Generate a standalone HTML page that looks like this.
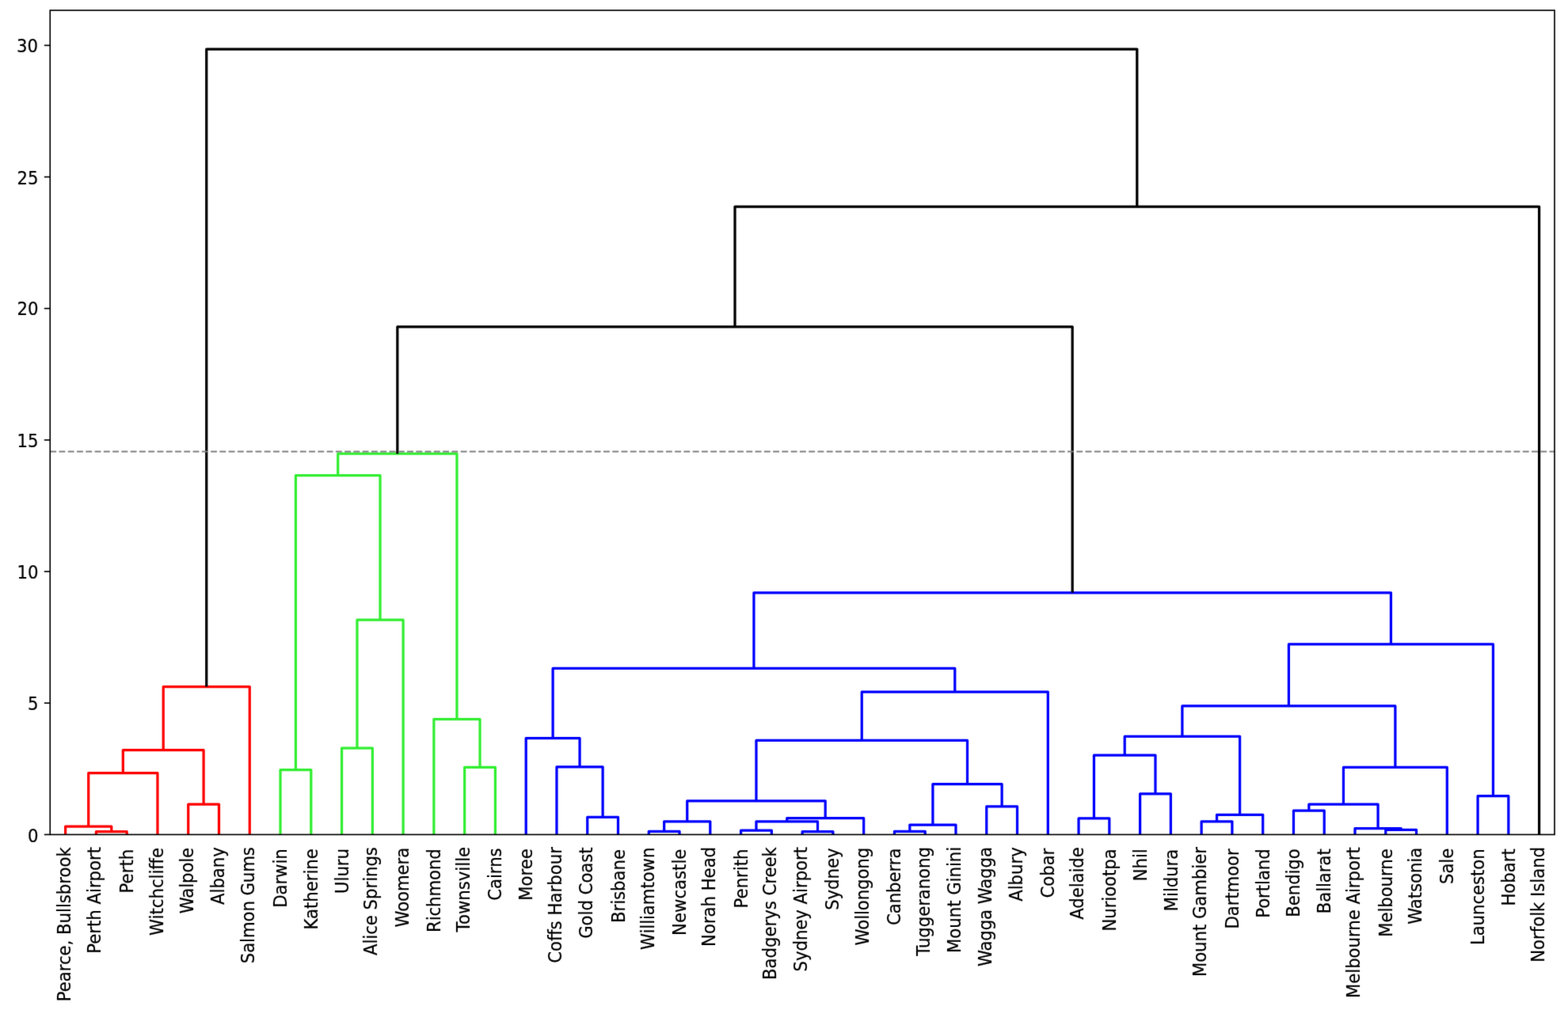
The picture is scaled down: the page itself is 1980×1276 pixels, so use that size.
<!DOCTYPE html>
<html lang="en">
<head>
<meta charset="utf-8">
<title>Hierarchical clustering dendrogram</title>
<style>
html,body{margin:0;padding:0;background:#fff;}
body{width:1980px;height:1276px;overflow:hidden;}
svg{display:block;}
text{font-family:"DejaVu Sans","Liberation Sans",sans-serif;font-size:21.25px;fill:#000;stroke:#000;stroke-width:0.22px;stroke-linejoin:round;}
.lk{fill:none;stroke-width:3.25;stroke-linejoin:round;stroke-linecap:butt;}
.ax{fill:none;stroke:#000;stroke-width:1.65;stroke-linecap:square;stroke-linejoin:miter;}
.tk{stroke:#000;stroke-width:1.65;stroke-linecap:butt;}
</style>
</head>
<body>
<svg xmlns="http://www.w3.org/2000/svg" width="1980" height="1276" viewBox="0 0 1980 1276">
<defs><filter id="soft" filterUnits="userSpaceOnUse" x="0" y="0" width="1980" height="1276" color-interpolation-filters="sRGB"><feConvolveMatrix order="3" kernelMatrix="0.0081 0.0738 0.0081 0.0738 0.6724 0.0738 0.0081 0.0738 0.0081" divisor="1" edgeMode="duplicate" preserveAlpha="true"/></filter></defs>
<g filter="url(#soft)">
<rect x="0" y="0" width="1980" height="1276" fill="#ffffff"/>
<g class="lk" stroke="#ff0000">
<path d="M121.41 1054.4V1050.74H160.18V1054.4"/>
<path d="M82.64 1054.4V1044.1H140.79V1050.74"/>
<path d="M111.71 1044.1V976.63H198.95V1054.4"/>
<path d="M237.72 1054.4V1016.18H276.49V1054.4"/>
<path d="M155.33 976.63V947.72H257.1V1016.18"/>
<path d="M206.22 947.72V867.62H315.26V1054.4"/>
</g>
<g class="lk" stroke="#33ee33">
<path d="M354.03 1054.4V972.64H392.8V1054.4"/>
<path d="M431.57 1054.4V945.06H470.34V1054.4"/>
<path d="M450.95 945.06V783.2H509.11V1054.4"/>
<path d="M373.41 972.64V600.58H480.03V783.2"/>
<path d="M586.65 1054.4V969.32H625.42V1054.4"/>
<path d="M547.88 1054.4V908.66H606.04V969.32"/>
<path d="M426.72 600.58V573.16H576.96V908.66"/>
</g>
<g class="lk" stroke="#0000ff">
<path d="M741.73 1054.4V1032.46H780.5V1054.4"/>
<path d="M702.96 1054.4V968.99H761.12V1032.46"/>
<path d="M664.19 1054.4V932.59H732.04V968.99"/>
<path d="M819.27 1054.4V1050.25H858.04V1054.4"/>
<path d="M838.66 1050.25V1037.78H896.81V1054.4"/>
<path d="M935.58 1054.4V1049.08H974.35V1054.4"/>
<path d="M1013.12 1054.4V1050.74H1051.9V1054.4"/>
<path d="M954.97 1049.08V1037.78H1032.51V1050.74"/>
<path d="M993.74 1037.78V1033.63H1090.67V1054.4"/>
<path d="M867.74 1037.78V1011.86H1042.2V1033.63"/>
<path d="M1129.44 1054.4V1050.25H1168.21V1054.4"/>
<path d="M1148.82 1050.25V1042.1H1206.98V1054.4"/>
<path d="M1245.75 1054.4V1018.84H1284.52V1054.4"/>
<path d="M1177.9 1042.1V990.59H1265.13V1018.84"/>
<path d="M954.97 1011.86V935.42H1221.52V990.59"/>
<path d="M1088.24 935.42V874.1H1323.29V1054.4"/>
<path d="M698.12 932.59V844.35H1205.77V874.1"/>
<path d="M1362.06 1054.4V1033.99H1400.83V1054.4"/>
<path d="M1439.6 1054.4V1002.89H1478.37V1054.4"/>
<path d="M1381.44 1033.99V954.03H1458.98V1002.89"/>
<path d="M1517.14 1054.4V1037.78H1555.91V1054.4"/>
<path d="M1536.53 1037.78V1029.31H1594.68V1054.4"/>
<path d="M1420.21 954.03V930.43H1565.6V1029.31"/>
<path d="M1633.45 1054.4V1024.09H1672.22V1054.4"/>
<path d="M1749.76 1054.4V1048.42H1788.53V1054.4"/>
<path d="M1710.99 1054.4V1046.59H1769.15V1048.42"/>
<path d="M1652.84 1024.09V1016.18H1740.07V1046.59"/>
<path d="M1696.45 1016.18V969.48H1827.3V1054.4"/>
<path d="M1492.91 930.43V891.88H1761.88V969.48"/>
<path d="M1866.07 1054.4V1005.71H1904.84V1054.4"/>
<path d="M1627.39 891.88V813.94H1885.46V1005.71"/>
<path d="M951.94 844.35V748.77H1756.43V813.94"/>
</g>
<g class="lk" stroke="#000000">
<path d="M501.84 573.16V412.96H1354.18V748.77"/>
<path d="M928.01 412.96V261.08H1943.61V1054.4"/>
<path d="M260.74 867.62V62H1435.81V261.08"/>
</g>
<path d="M63.25 570.5H1963" fill="none" stroke="#808080" stroke-width="2.1" stroke-dasharray="7.87 3.4"/>
<g class="tk">
<path d="M63.25 1054.4H55.85"/>
<path d="M63.25 888.23H55.85"/>
<path d="M63.25 722.05H55.85"/>
<path d="M63.25 555.88H55.85"/>
<path d="M63.25 389.7H55.85"/>
<path d="M63.25 223.53H55.85"/>
<path d="M63.25 57.35H55.85"/>
</g>
<rect class="ax" x="63.25" y="13.05" width="1899.75" height="1041.35"/>
<g text-anchor="end">
<text transform="translate(48.6 1063.5) scale(1 1.06)">0</text>
<text transform="translate(48.6 897.28) scale(1 1.06)">5</text>
<text transform="translate(48.4 730.6) scale(1 1.06)">10</text>
<text transform="translate(48.4 564.88) scale(1 1.06)">15</text>
<text transform="translate(48.4 397.85) scale(1 1.06)">20</text>
<text transform="translate(48.4 232.58) scale(1 1.06)">25</text>
<text transform="translate(48.1 66.45) scale(1 1.06)">30</text>
</g>
<g>
<text transform="translate(88.59 1265.3) rotate(-90) scale(1 1.06)" textLength="195" lengthAdjust="spacing">Pearce, Bullsbrook</text>
<text transform="translate(127.36 1204.77) rotate(-90) scale(1 1.06)" textLength="134.88" lengthAdjust="spacing">Perth Airport</text>
<text transform="translate(168.25 1128.45) rotate(-90) scale(1 1.06)" textLength="55.62" lengthAdjust="spacing">Perth</text>
<text transform="translate(206 1182.03) rotate(-90) scale(1 1.06)" textLength="111.12" lengthAdjust="spacing">Witchcliffe</text>
<text transform="translate(244.27 1154.3) rotate(-90) scale(1 1.06)" textLength="83.5" lengthAdjust="spacing">Walpole</text>
<text transform="translate(282.81 1142.9) rotate(-90) scale(1 1.06)" textLength="72.62" lengthAdjust="spacing">Albany</text>
<text transform="translate(321.11 1217.22) rotate(-90) scale(1 1.06)" textLength="147.12" lengthAdjust="spacing">Salmon Gums</text>
<text transform="translate(362 1146.85) rotate(-90) scale(1 1.06)" textLength="74.62" lengthAdjust="spacing">Darwin</text>
<text transform="translate(400.77 1174.47) rotate(-90) scale(1 1.06)" textLength="102.25" lengthAdjust="spacing">Katherine</text>
<text transform="translate(439.69 1128.97) rotate(-90) scale(1 1.06)" textLength="57" lengthAdjust="spacing">Uluru</text>
<text transform="translate(476.19 1206.97) rotate(-90) scale(1 1.06)" textLength="136.88" lengthAdjust="spacing">Alice Springs</text>
<text transform="translate(515.66 1171.43) rotate(-90) scale(1 1.06)" textLength="100.62" lengthAdjust="spacing">Woomera</text>
<text transform="translate(555.86 1177.97) rotate(-90) scale(1 1.06)" textLength="105.75" lengthAdjust="spacing">Richmond</text>
<text transform="translate(593.2 1177.4) rotate(-90) scale(1 1.06)" textLength="107.5" lengthAdjust="spacing">Townsville</text>
<text transform="translate(633.12 1137.85) rotate(-90) scale(1 1.06)" textLength="66.5" lengthAdjust="spacing">Cairns</text>
<text transform="translate(672.17 1137.72) rotate(-90) scale(1 1.06)" textLength="65.5" lengthAdjust="spacing">Moree</text>
<text transform="translate(708.81 1216.85) rotate(-90) scale(1 1.06)" textLength="146.75" lengthAdjust="spacing">Coffs Harbour</text>
<text transform="translate(748.18 1185.8) rotate(-90) scale(1 1.06)" textLength="115.5" lengthAdjust="spacing">Gold Coast</text>
<text transform="translate(788.78 1166.02) rotate(-90) scale(1 1.06)" textLength="93" lengthAdjust="spacing">Brisbane</text>
<text transform="translate(825.73 1199.98) rotate(-90) scale(1 1.06)" textLength="129.38" lengthAdjust="spacing">Williamtown</text>
<text transform="translate(866.12 1181.88) rotate(-90) scale(1 1.06)" textLength="109.25" lengthAdjust="spacing">Newcastle</text>
<text transform="translate(902.56 1195.9) rotate(-90) scale(1 1.06)" textLength="126" lengthAdjust="spacing">Norah Head</text>
<text transform="translate(943.86 1147.4) rotate(-90) scale(1 1.06)" textLength="74.88" lengthAdjust="spacing">Penrith</text>
<text transform="translate(980.2 1237.97) rotate(-90) scale(1 1.06)" textLength="167.88" lengthAdjust="spacing">Badgerys Creek</text>
<text transform="translate(1018.88 1227.52) rotate(-90) scale(1 1.06)" textLength="157.62" lengthAdjust="spacing">Sydney Airport</text>
<text transform="translate(1059.12 1149.85) rotate(-90) scale(1 1.06)" textLength="78.38" lengthAdjust="spacing">Sydney</text>
<text transform="translate(1097.22 1194.43) rotate(-90) scale(1 1.06)" textLength="123.62" lengthAdjust="spacing">Wollongong</text>
<text transform="translate(1137.14 1169.05) rotate(-90) scale(1 1.06)" textLength="97.5" lengthAdjust="spacing">Canberra</text>
<text transform="translate(1174.06 1207.72) rotate(-90) scale(1 1.06)" textLength="137.62" lengthAdjust="spacing">Tuggeranong</text>
<text transform="translate(1212.73 1203.9) rotate(-90) scale(1 1.06)" textLength="134" lengthAdjust="spacing">Mount Ginini</text>
<text transform="translate(1252 1221.1) rotate(-90) scale(1 1.06)" textLength="151" lengthAdjust="spacing">Wagga Wagga</text>
<text transform="translate(1290.94 1138.77) rotate(-90) scale(1 1.06)" textLength="68.5" lengthAdjust="spacing">Albury</text>
<text transform="translate(1331.09 1134.4) rotate(-90) scale(1 1.06)" textLength="62.75" lengthAdjust="spacing">Cobar</text>
<text transform="translate(1368.08 1161.77) rotate(-90) scale(1 1.06)" textLength="91.5" lengthAdjust="spacing">Adelaide</text>
<text transform="translate(1408.8 1176.6) rotate(-90) scale(1 1.06)" textLength="104.38" lengthAdjust="spacing">Nuriootpa</text>
<text transform="translate(1447.57 1113.35) rotate(-90) scale(1 1.06)" textLength="41.12" lengthAdjust="spacing">Nhil</text>
<text transform="translate(1486.64 1151.22) rotate(-90) scale(1 1.06)" textLength="78.5" lengthAdjust="spacing">Mildura</text>
<text transform="translate(1522.99 1234.1) rotate(-90) scale(1 1.06)" textLength="164" lengthAdjust="spacing">Mount Gambier</text>
<text transform="translate(1563.89 1173.6) rotate(-90) scale(1 1.06)" textLength="101.38" lengthAdjust="spacing">Dartmoor</text>
<text transform="translate(1602.66 1159.85) rotate(-90) scale(1 1.06)" textLength="87.62" lengthAdjust="spacing">Portland</text>
<text transform="translate(1641.43 1158.72) rotate(-90) scale(1 1.06)" textLength="86.5" lengthAdjust="spacing">Bendigo</text>
<text transform="translate(1680.2 1154.35) rotate(-90) scale(1 1.06)" textLength="82.12" lengthAdjust="spacing">Ballarat</text>
<text transform="translate(1716.84 1260.97) rotate(-90) scale(1 1.06)" textLength="190.88" lengthAdjust="spacing">Melbourne Airport</text>
<text transform="translate(1757.74 1183.85) rotate(-90) scale(1 1.06)" textLength="111.62" lengthAdjust="spacing">Melbourne</text>
<text transform="translate(1795.09 1167.8) rotate(-90) scale(1 1.06)" textLength="97" lengthAdjust="spacing">Watsonia</text>
<text transform="translate(1834.83 1116.9) rotate(-90) scale(1 1.06)" textLength="45.12" lengthAdjust="spacing">Sale</text>
<text transform="translate(1874.05 1194.1) rotate(-90) scale(1 1.06)" textLength="121.88" lengthAdjust="spacing">Launceston</text>
<text transform="translate(1912.82 1144.6) rotate(-90) scale(1 1.06)" textLength="72.38" lengthAdjust="spacing">Hobart</text>
<text transform="translate(1949.76 1215.77) rotate(-90) scale(1 1.06)" textLength="145.88" lengthAdjust="spacing">Norfolk Island</text>
</g>
</g>
</svg>
</body>
</html>
